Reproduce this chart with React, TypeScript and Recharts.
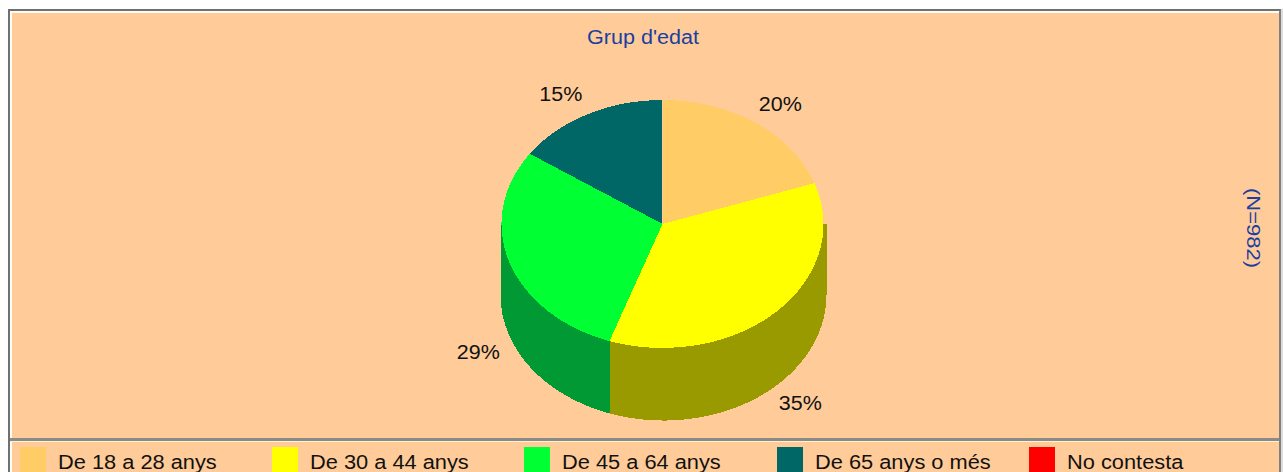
import React from 'react';
import { PieChart, Pie, Cell, Legend } from 'recharts';

const categories = ['De 18 a 28 anys', 'De 30 a 44 anys', 'De 45 a 64 anys', 'De 65 anys o més', 'No contesta'];
const values = [19.5, 35.4, 29.0, 15.3, 0];
const topColors = ['#FFCC66', '#FFFF00', '#00FF33', '#006666', '#FF0000'];
const wallColors = ['#996633', '#999900', '#009933', '#003333', '#990000'];

const data = categories.map((name, i) => ({ name, value: values[i] }));

const BG = '#FFCC99';
const BLUE = '#1A3FA0';
const FONT = '"Liberation Sans", Arial, sans-serif';
const CX = 662.5;
const CY = 224;
const RATIO = 124 / 161;
const DEPTH = 71;
// hand nudges for the percent labels, px
const labelDx = [5, 0, 1, -11, 0];
const labelDy = [2, 2, 10, 3, 0];

const pt = (cx: number, cy: number, r: number, deg: number) => {
  const a = (deg * Math.PI) / 180;
  return { x: cx + r * Math.cos(a), y: cy - r * RATIO * Math.sin(a) };
};

// flat slice squashed to an ellipse, recharts only gives us circles
const TopSlice = (props: any) => {
  const { cx, cy, outerRadius: r, startAngle, endAngle, fill } = props;
  if (Math.abs(startAngle - endAngle) < 0.01) return null;
  const p1 = pt(cx, cy, r, startAngle);
  const p2 = pt(cx, cy, r, endAngle);
  const large = Math.abs(startAngle - endAngle) > 180 ? 1 : 0;
  const d = `M${cx},${cy}L${p1.x},${p1.y}A${r},${r * RATIO} 0 ${large} 1 ${p2.x},${p2.y}Z`;
  return <path d={d} fill={fill} stroke="none" shapeRendering="crispEdges" />;
};

// side wall, only the front half of the ellipse is visible
const WallSlice = (props: any) => {
  const { cx, cy, outerRadius: r, startAngle, endAngle, fill } = props;
  const a1 = Math.min(startAngle, 0);
  const a2 = Math.max(endAngle, -180);
  if (a1 <= a2) return null;
  const p1 = pt(cx, cy, r, a1);
  const p2 = pt(cx, cy, r, a2);
  const ry = r * RATIO;
  const d =
    `M${cx},${cy}L${p1.x},${p1.y}L${p1.x},${p1.y + DEPTH}` +
    `A${r},${ry} 0 0 1 ${p2.x},${p2.y + DEPTH}L${p2.x},${p2.y}Z`;
  return <path d={d} fill={fill} stroke="none" shapeRendering="crispEdges" />;
};

const renderLabel = (props: any) => {
  const { cx, cy, midAngle, outerRadius: r, value, index } = props;
  if (!value) return null;
  const p = pt(cx, cy, r * 1.21, midAngle);
  const y = Math.sin((midAngle * Math.PI) / 180) < 0 ? p.y + DEPTH : p.y;
  return (
    <text
      x={p.x + labelDx[index]}
      y={y + labelDy[index]}
      textAnchor="middle"
      dominantBaseline="central"
      fill="#111"
      fontSize={20}
      fontFamily={FONT}
      textLength={43}
      lengthAdjust="spacingAndGlyphs"
    >
      {Math.round(value)}%
    </text>
  );
};

const renderLegend = () => (
  <div style={{ display: 'flex', paddingLeft: 20 }}>
    {categories.map((name, i) => (
      <div key={name} style={{ width: 252.2, flex: 'none', display: 'flex', alignItems: 'flex-start' }}>
        <div style={{ width: 26, height: 30, background: topColors[i], flex: 'none' }} />
        <span
          style={{
            marginLeft: 12,
            fontFamily: FONT,
            fontSize: 20,
            lineHeight: '30px',
            color: '#111',
            whiteSpace: 'nowrap',
            transform: 'scaleX(1.09)',
            transformOrigin: 'left center',
          }}
        >
          {name}
        </span>
      </div>
    ))}
  </div>
);

export default function App() {
  return (
    <div style={{ position: 'fixed', left: 0, top: 0, width: 1283, height: 472, overflow: 'hidden', background: '#fff' }}>
      {/* sunken panel frame, dark outside and a light line inside */}
      <div style={{ position: 'absolute', left: 1281, top: 9, width: 2, height: 463, background: '#dcdcdc' }} />
      <div style={{ position: 'absolute', left: 8, top: 9, width: 1273, height: 473, background: '#FFFDF4', boxSizing: 'border-box', borderTop: '2px solid #707070', borderLeft: '2px solid #707070', borderRight: '2px solid #808080' }} />
      <div style={{ position: 'absolute', left: 11.5, top: 12.5, width: 1267.5, height: 470, background: BG }} />
      <div style={{ position: 'absolute', left: 10, top: 438, width: 1269, height: 2.5, background: '#8a8a8a' }} />
      <div style={{ position: 'absolute', left: 10, top: 440.5, width: 1269, height: 1.5, background: '#FFF2C4' }} />
      <div style={{ position: 'absolute', left: 0, top: 0 }}>
        <PieChart width={1283} height={472} margin={{ top: 0, right: 0, bottom: 0, left: 0 }}>
          <text
            x={643}
            y={37}
            textAnchor="middle"
            dominantBaseline="central"
            fill={BLUE}
            fontSize={20}
            fontFamily={FONT}
            textLength={112}
            lengthAdjust="spacingAndGlyphs"
          >
            Grup d'edat
          </text>
          <text
            x={1253}
            y={228}
            textAnchor="middle"
            dominantBaseline="central"
            fill={BLUE}
            fontSize={19}
            fontFamily={FONT}
            textLength={80}
            lengthAdjust="spacingAndGlyphs"
            transform="rotate(90 1253 228)"
          >
            (N=982)
          </text>
          <Pie
            data={data}
            dataKey="value"
            nameKey="name"
            cx={CX + 1}
            cy={CY}
            outerRadius={163}
            startAngle={90}
            endAngle={-270}
            paddingAngle={0}
            legendType="none"
            shape={WallSlice}
            label={false}
            isAnimationActive={false}
          >
            {data.map((d, i) => (
              <Cell key={d.name} fill={wallColors[i]} />
            ))}
          </Pie>
          <Pie
            data={data}
            dataKey="value"
            nameKey="name"
            cx={CX}
            cy={CY}
            outerRadius={161}
            startAngle={90}
            endAngle={-270}
            paddingAngle={0}
            shape={TopSlice}
            label={renderLabel}
            labelLine={false}
            isAnimationActive={false}
          >
            {data.map((d, i) => (
              <Cell key={d.name} fill={topColors[i]} />
            ))}
          </Pie>
          <Legend
            content={renderLegend}
            wrapperStyle={{ position: 'absolute', left: 0, top: 447, width: 1283, height: 30, bottom: 'auto' }}
          />
        </PieChart>
      </div>
    </div>
  );
}
